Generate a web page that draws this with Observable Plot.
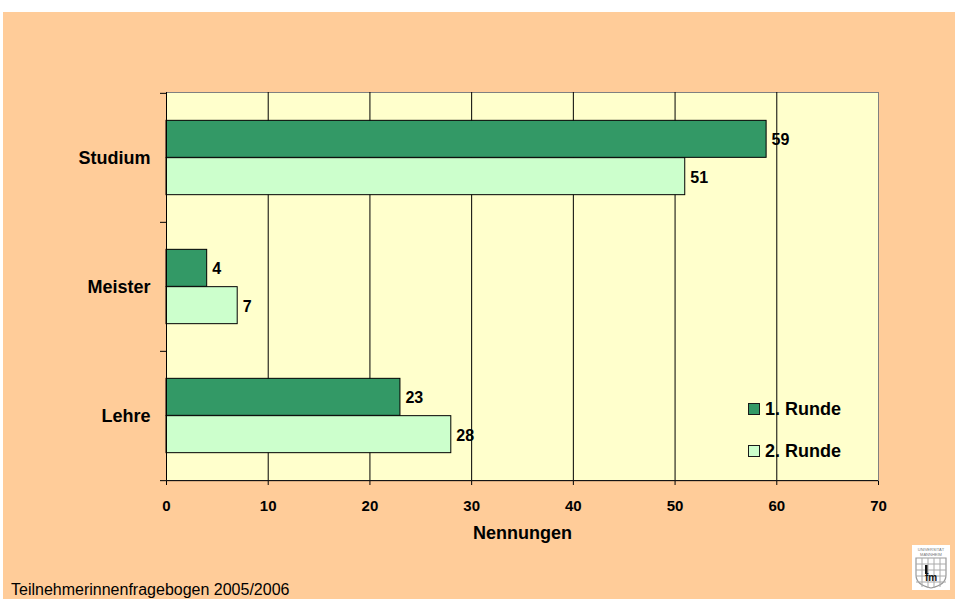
<!DOCTYPE html>
<html>
<head>
<meta charset="utf-8">
<script src="https://cdn.jsdelivr.net/npm/d3@7"></script>
<script src="https://cdn.jsdelivr.net/npm/@observablehq/plot@0.6"></script>
<style>
  html, body { margin: 0; padding: 0; background: #ffffff; width: 955px; height: 599px; overflow: hidden; }
  #bg { position: absolute; left: 3px; top: 12px; width: 952px; height: 587px; background: #FFCC99; overflow: hidden;
        font-family: "Liberation Sans", Arial, sans-serif; }
  #chart { position: absolute; left: 0; top: 0; }
  #chart svg { display: block; }
  .sw { position: absolute; width: 12px; height: 12px; box-sizing: border-box; border: 1px solid #1a1a1a; }
  .lt { position: absolute; font-family: "Liberation Sans", Arial, sans-serif; font-size: 18px; font-weight: 700; line-height: 18px; color: #000; white-space: nowrap; }
  #caption { position: absolute; left: 8px; top: 570px; font-size: 16px; line-height: 16px; color: #000; white-space: nowrap; }
  #logo { position: absolute; left: 909px; top: 533px; width: 38px; height: 45px; background: #fff; }
</style>
</head>
<body>
<div id="bg">
  <div id="chart"></div>
  <div id="legend"></div>
  <div id="caption"></div>
  <div id="logo"></div>
</div>
<script>
// ---- data ----
const categories = ["Studium", "Meister", "Lehre"];
const seriesNames = ["1. Runde", "2. Runde"];
const runde1 = [59, 4, 23];
const runde2 = [51, 7, 28];
const xTicks = [0, 10, 20, 30, 40, 50, 60, 70];
const seriesColors = ["#339966", "#CCFFCC"];
const xLabel = "Nennungen";
const captionText = "Teilnehmerinnenfragebogen 2005/2006";

// ---- layout ----
const W = 952, H = 587;
const mL = 163, mR = 77, mT = 80, mB = 119;
const band = (H - mT - mB) / categories.length;
const barH = band * 0.2887;
const outer = (band - 2 * barH) / 2;

const seriesValues = [runde1, runde2];
const rows = seriesNames.map((s, i) =>
  categories.map((c, j) => ({category: c, series: s, value: seriesValues[i][j]})));

const lastCat = categories[categories.length - 1];

const chart = Plot.plot({
  width: W,
  height: H,
  marginLeft: mL,
  marginRight: mR,
  marginTop: mT,
  marginBottom: mB,
  style: {background: "transparent", fontFamily: "'Liberation Sans', Arial, sans-serif", fontSize: "15px", fontWeight: "bold", color: "#000"},
  x: {domain: [xTicks[0], xTicks[xTicks.length - 1]], ticks: xTicks, tickSize: 5, tickPadding: 15, label: null},
  y: {domain: categories, padding: 0, axis: null},
  marks: [
    Plot.frame({fill: "#FFFFCC", stroke: "#808080"}),
    Plot.ruleX(xTicks.slice(1, -1), {stroke: "#000"}),
    Plot.barX(rows[0], {x: "value", y: "category", fill: seriesColors[0], stroke: "#000", strokeWidth: 1,
      insetTop: outer, insetBottom: outer + barH}),
    Plot.barX(rows[1], {x: "value", y: "category", fill: seriesColors[1], stroke: "#000", strokeWidth: 1,
      insetTop: outer + barH, insetBottom: outer}),
    Plot.ruleX([xTicks[0]], {stroke: "#000"}),
    Plot.ruleY([lastCat], {y: d => d, dy: band / 2, x1: xTicks[0], x2: xTicks[xTicks.length - 1], insetLeft: -6, stroke: "#000"}),
    Plot.ruleY(categories, {y: d => d, dy: -band / 2, x1: xTicks[0], x2: xTicks[0], insetLeft: -6, stroke: "#000"}),
    Plot.text(rows[0], {x: "value", y: "category", text: d => String(d.value), dx: 5, dy: -barH / 2 + 1,
      textAnchor: "start", fontSize: 16, fontWeight: "bold", fill: "#000"}),
    Plot.text(rows[1], {x: "value", y: "category", text: d => String(d.value), dx: 5, dy: barH / 2 + 1,
      textAnchor: "start", fontSize: 16, fontWeight: "bold", fill: "#000"}),
    Plot.text(categories, {y: d => d, text: d => d, frameAnchor: "left", dx: -16, textAnchor: "end",
      fontSize: 18, fontWeight: "bold", fill: "#000"}),
    Plot.text([xLabel], {text: d => d, frameAnchor: "bottom", dy: 53, lineAnchor: "middle",
      fontSize: 18, fontWeight: "bold", fill: "#000"})
  ]
});
document.getElementById("chart").appendChild(chart);

// ---- legend (HTML) ----
const legend = document.getElementById("legend");
const legendTops = [391, 432.7];
seriesNames.forEach((s, i) => {
  const sw = document.createElement("div");
  sw.className = "sw";
  sw.style.left = "745px";
  sw.style.top = legendTops[i] + "px";
  sw.style.background = seriesColors[i];
  legend.appendChild(sw);
  const t = document.createElement("div");
  t.className = "lt";
  t.style.left = "762px";
  t.style.top = (legendTops[i] - 3) + "px";
  t.textContent = s;
  legend.appendChild(t);
});

document.getElementById("caption").textContent = captionText;

// ---- logo ----
document.getElementById("logo").innerHTML =
  '<svg width="38" height="45" viewBox="0 0 38 45">' +
  '<text x="19" y="6" font-size="4" text-anchor="middle" fill="#777" font-family="Liberation Sans">UNIVERSITÄT</text>' +
  '<text x="19" y="11" font-size="4" text-anchor="middle" fill="#777" font-family="Liberation Sans">MANNHEIM</text>' +
  '<path d="M4 13 H34 V30 Q34 40 19 43 Q4 40 4 30 Z" fill="#fff" stroke="#999" stroke-width="1.2"/>' +
  '<path d="M4 19 H34 M4 25 H34 M4 31 H34 M4 37 H34 M10 13 V42 M16 13 V43 M22 13 V43 M28 13 V42" stroke="#aaa" stroke-width="1"/>' +
  '<text x="19" y="36" font-size="10" font-weight="bold" text-anchor="middle" fill="#111" font-family="Liberation Sans">fm</text>' +
  '<rect x="13" y="20" width="2.5" height="9" fill="#111"/>' +
  '</svg>';
</script>
</body>
</html>
